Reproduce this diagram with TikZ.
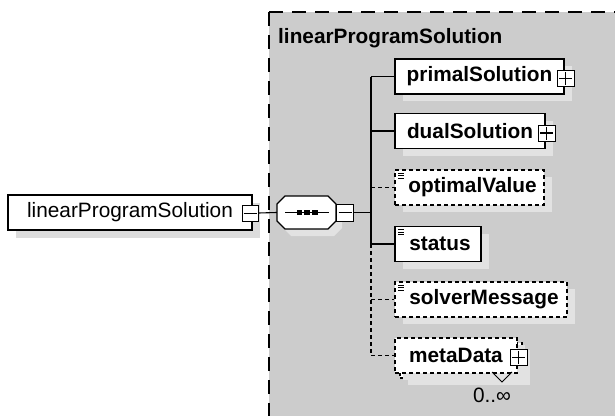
\documentclass[tikz,border=0pt]{standalone}
\usepackage{fontspec}
\setmainfont{Liberation Sans}
\usetikzlibrary{shadows}
\definecolor{bggrey}{HTML}{CCCCCC}
\definecolor{shgrey}{HTML}{E2E2E2}
\definecolor{shwhite}{HTML}{DCDCDC}
\begin{document}
\begin{tikzpicture}[x=1pt,y=-1pt,
  txt/.style={font=\fontsize{20.8}{25}\selectfont},
  elem/.style={draw, line width=1.1pt, fill=white, minimum height=35pt, inner sep=0pt,
    font=\fontsize{20.8}{25}\selectfont\bfseries,
    general shadow={fill=shgrey, shadow xshift=8pt, shadow yshift=-7pt}},
  optelem/.style={elem, dash pattern=on 4pt off 3pt},
  pmbox/.style={draw, line width=1pt, fill=white, minimum width=16pt, minimum height=16pt, inner sep=0pt},
  conn/.style={line width=1.1pt},
  optconn/.style={line width=1.1pt, dash pattern=on 4pt off 3pt},
  icon/.style={line width=0.8pt}
]
\useasboundingbox (0,0) rectangle (615,415);

% grey group box
\fill[bggrey] (269,12) rectangle (620,420);
\draw[line width=1.3pt, dash pattern=on 14pt off 9pt] (269,12) -- (620,12);
\draw[line width=1.3pt, dash pattern=on 14pt off 9pt] (269,12) -- (269,420);
\node[anchor=base west, inner sep=0pt, font=\fontsize{20.8}{25}\selectfont\bfseries] (title) at (278,43) {linearProgramSolution};

% root element
\node[draw, line width=1.1pt, fill=white, minimum width=244pt, minimum height=35pt, inner sep=0pt, txt,
  general shadow={fill=shwhite, shadow xshift=8pt, shadow yshift=-8pt}] (root) at (130,212.5) {linearProgramSolution};
\node[pmbox] (rootpm) at (250,213) {};
\draw[line width=1pt] ([xshift=-6.5pt]rootpm.center) -- ([xshift=6.5pt]rootpm.center);

% sequence compositor
\fill[shgrey] (291,203) -- (334,203) -- (342,211) -- (342,228) -- (334,236) -- (291,236) -- (283,228) -- (283,211) -- cycle;
\node[minimum width=59pt, minimum height=33pt, inner sep=0pt] (seq) at (306.5,212.5) {};
\draw[line width=1.1pt, fill=white] (285,196) -- (328,196) -- (336,204) -- (336,221) -- (328,229) -- (285,229) -- (277,221) -- (277,204) -- cycle;
\draw[line width=1.1pt] (285,212.5) -- (329,212.5);
\foreach \cx in {299.5,307,315} \fill (\cx-2.6,210) rectangle (\cx+2.6,215);
\node[pmbox, minimum width=17pt, minimum height=17pt] (seqpm) at (345,212.5) {};
\draw[line width=1pt] ([xshift=-6.5pt]seqpm.center) -- ([xshift=6.5pt]seqpm.center);

\draw[conn] (rootpm.east) -- (seq.west);

% children
\node[elem, minimum width=169pt] (primal) at (479.5,76.5) {primalSolution};
\node[elem, minimum width=150pt] (dual) at (470,131) {dualSolution};
\node[optelem, minimum width=149pt] (optv) at (469.5,187.5) {\hspace{6pt}optimalValue};
\node[elem, minimum width=86pt] (status) at (438,244) {\hspace{4pt}status};
\node[optelem, minimum width=172pt] (solver) at (481,299.5) {\hspace{6pt}solverMessage};
\node[optelem, minimum width=122pt] (metaback) at (461,360.5) {};
\node[optelem, minimum width=122pt, general shadow={}] (meta) at (456,355.5) {metaData};

% plus boxes
\foreach \n in {primal,dual,meta}{
  \node[pmbox, minimum width=17pt] (\n pm) at ([xshift=1pt,yshift=-2pt]\n.east) {};
  \draw[line width=1.1pt] ([xshift=-6.5pt]\n pm.center) -- ([xshift=6.5pt]\n pm.center);
  \draw[line width=1.1pt] ([yshift=-6.5pt]\n pm.center) -- ([yshift=6.5pt]\n pm.center);
}

% simple-type icons
\foreach \n in {optv,status,solver}{
  \draw[icon] ([xshift=4pt,yshift=-3.5pt]\n.north west) -- ++(6,0);
  \draw[icon] ([xshift=4pt,yshift=-6pt]\n.north west) -- ++(6,0);
  \draw[icon] ([xshift=4pt,yshift=-8.5pt]\n.north west) -- ++(6,0);
}

% occurrence marker
\node[txt, anchor=base, inner sep=0pt] (occ) at (492,402) {0..∞};
\draw[line width=1pt] (492,372) -- (502,382) -- (512,372);

% trunk and branches
\coordinate (tp) at (371,76.5);
\coordinate (td) at (371,131);
\coordinate (to) at (371,187.5);
\coordinate (tj) at (371,212.5);
\coordinate (ts) at (371,244);
\coordinate (tv) at (371,299.5);
\coordinate (tm) at (371,355.5);
\draw[conn] (seqpm.east) -- (tj);
\draw[conn] (tp) -- (ts);
\draw[optconn] (ts) -- (tm);
\draw[conn] (tp) -- (primal.west);
\draw[conn] (td) -- (dual.west);
\draw[optconn] (to) -- (optv.west);
\draw[line width=2.2pt] (ts) -- (status.west);
\draw[optconn] (tv) -- (solver.west);
\draw[optconn] (tm) -- (meta.west);
\end{tikzpicture}
\end{document}
